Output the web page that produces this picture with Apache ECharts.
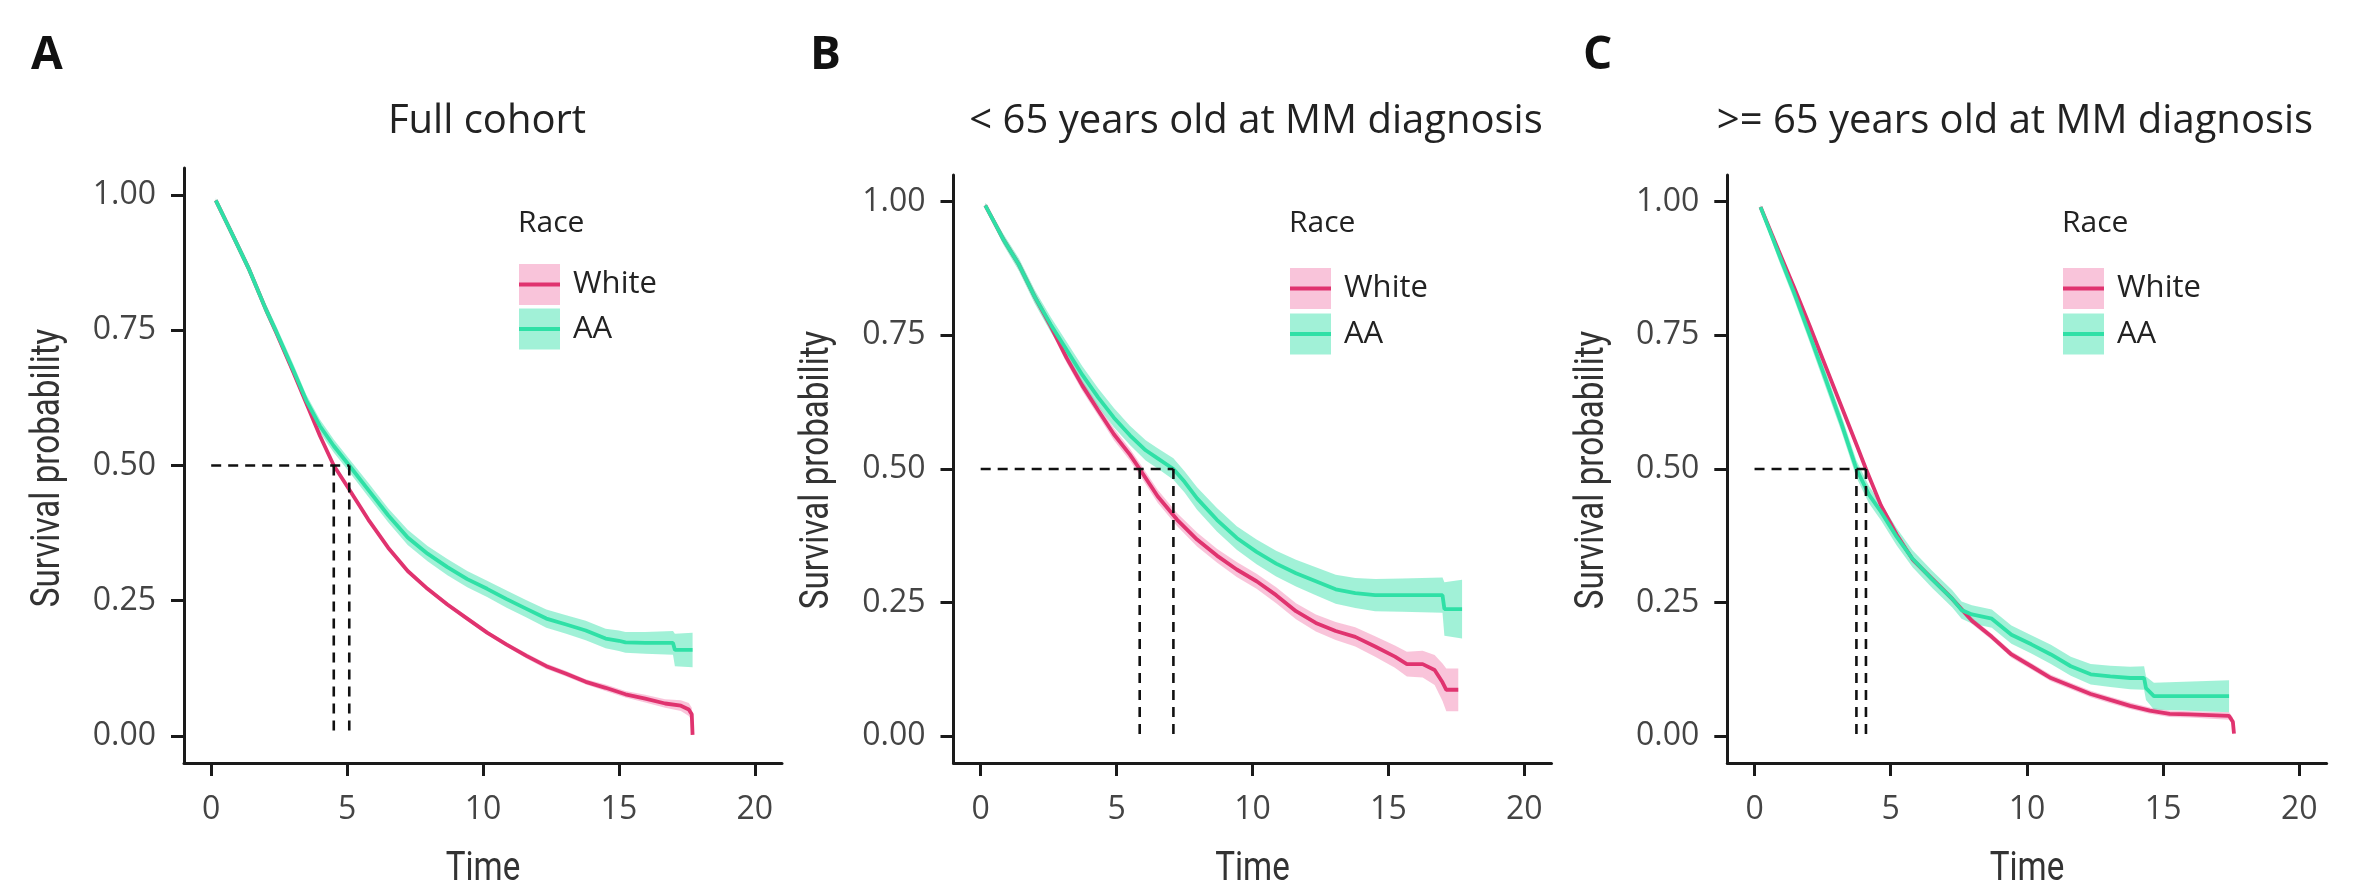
<!DOCTYPE html>
<html>
<head>
<meta charset="utf-8">
<script src="https://cdn.jsdelivr.net/npm/echarts@6/dist/echarts.min.js"></script>
<style>
  html, body { margin: 0; padding: 0; background: #ffffff; }
  #chart { width: 2359px; height: 889px; }
</style>
</head>
<body>
<div id="chart"></div>
<script>
// ---- Shared axis ticks and labels ----
const timeTicks = [0, 5, 10, 15, 20];
const survTicks = [0, 0.25, 0.5, 0.75, 1];
const raceGroups = ['White', 'AA'];
const panelTitles = ['Full cohort', '< 65 years old at MM diagnosis', '>= 65 years old at MM diagnosis'];
const panelLetters = ['A', 'B', 'C'];
const xAxisTitle = 'Time';
const yAxisTitle = 'Survival probability';

// ---- A: full cohort (Kaplan-Meier estimate, half-width of the 95% band) ----
const fullWhiteTime = [0.17, 0.8, 1.4, 2.0, 2.4, 3.0, 3.5, 4.0, 4.51, 5.05, 5.78, 6.51, 7.23, 7.96, 8.69, 9.42, 10.15, 10.87, 11.6, 12.33, 13.06, 13.78, 14.51, 15.24, 15.97, 16.7, 17.28, 17.57, 17.68, 17.71];
const fullWhiteSurv = [0.99, 0.925, 0.862, 0.79, 0.745, 0.675, 0.615, 0.555, 0.5, 0.458, 0.4, 0.348, 0.305, 0.272, 0.243, 0.217, 0.191, 0.169, 0.148, 0.129, 0.115, 0.1, 0.089, 0.077, 0.069, 0.06, 0.056, 0.049, 0.04, 0.002];
const fullWhiteCI   = [0.002, 0.003, 0.003, 0.003, 0.003, 0.004, 0.004, 0.004, 0.004, 0.004, 0.004, 0.004, 0.004, 0.004, 0.004, 0.004, 0.004, 0.004, 0.005, 0.005, 0.005, 0.005, 0.006, 0.006, 0.007, 0.008, 0.01, 0.012, 0.012, 0.003];
const fullAATime = [0.17, 0.8, 1.4, 2.0, 2.4, 3.0, 3.5, 4.0, 4.51, 5.08, 5.78, 6.51, 7.23, 7.96, 8.69, 9.42, 10.15, 10.87, 11.6, 12.33, 13.06, 13.78, 14.51, 15.0, 15.24, 15.97, 16.99, 17.06, 17.71];
const fullAASurv = [0.99, 0.925, 0.862, 0.79, 0.747, 0.679, 0.62, 0.573, 0.536, 0.5, 0.455, 0.408, 0.367, 0.337, 0.312, 0.29, 0.272, 0.253, 0.235, 0.217, 0.206, 0.195, 0.18, 0.176, 0.173, 0.172, 0.172, 0.159, 0.159];
const fullAACI   = [0.004, 0.008, 0.009, 0.01, 0.01, 0.011, 0.011, 0.012, 0.012, 0.012, 0.013, 0.013, 0.014, 0.014, 0.015, 0.015, 0.015, 0.016, 0.016, 0.017, 0.017, 0.018, 0.018, 0.019, 0.019, 0.02, 0.022, 0.03, 0.032];
const fullMedians = [4.51, 5.08];

// ---- B: younger than 65 at diagnosis ----
const youngWhiteTime = [0.17, 0.83, 1.41, 1.99, 2.58, 3.16, 3.74, 4.32, 4.9, 5.49, 5.85, 6.51, 7.23, 7.96, 8.69, 9.42, 10.15, 10.87, 11.6, 12.33, 13.06, 13.78, 14.51, 15.24, 15.68, 16.26, 16.7, 16.99, 17.13, 17.57];
const youngWhiteSurv = [0.993, 0.93, 0.882, 0.822, 0.767, 0.708, 0.656, 0.61, 0.565, 0.527, 0.5, 0.449, 0.405, 0.368, 0.338, 0.312, 0.29, 0.264, 0.234, 0.212, 0.197, 0.186, 0.168, 0.149, 0.135, 0.135, 0.124, 0.101, 0.087, 0.087];
const youngWhiteCI   = [0.004, 0.006, 0.007, 0.008, 0.009, 0.009, 0.01, 0.01, 0.011, 0.011, 0.011, 0.012, 0.012, 0.013, 0.013, 0.014, 0.014, 0.015, 0.015, 0.016, 0.017, 0.018, 0.019, 0.021, 0.023, 0.025, 0.028, 0.035, 0.04, 0.04];
const youngAATime = [0.17, 0.83, 1.41, 1.99, 2.58, 3.16, 3.74, 4.32, 4.9, 5.49, 6.07, 6.51, 7.09, 7.5, 7.96, 8.69, 9.42, 10.15, 10.87, 11.6, 12.33, 13.06, 13.78, 14.51, 15.5, 16.99, 17.06, 17.71];
const youngAASurv = [0.993, 0.93, 0.882, 0.822, 0.77, 0.723, 0.676, 0.634, 0.596, 0.563, 0.535, 0.52, 0.5, 0.476, 0.445, 0.405, 0.371, 0.345, 0.323, 0.305, 0.29, 0.275, 0.268, 0.264, 0.264, 0.264, 0.238, 0.238];
const youngAACI   = [0.005, 0.01, 0.012, 0.013, 0.014, 0.015, 0.016, 0.017, 0.018, 0.018, 0.019, 0.019, 0.02, 0.02, 0.021, 0.022, 0.022, 0.023, 0.024, 0.025, 0.026, 0.027, 0.028, 0.03, 0.031, 0.033, 0.05, 0.055];
const youngMedians = [5.85, 7.09];

// ---- C: 65 or older at diagnosis ----
const olderWhiteTime = [0.22, 0.87, 1.45, 2.03, 2.61, 3.19, 3.77, 4.09, 4.64, 5.22, 5.8, 6.53, 7.26, 7.98, 8.71, 9.43, 10.16, 10.88, 11.61, 12.34, 13.06, 13.79, 14.51, 15.24, 15.97, 17.42, 17.56, 17.6];
const olderWhiteSurv = [0.99, 0.91, 0.84, 0.767, 0.692, 0.617, 0.542, 0.5, 0.432, 0.377, 0.331, 0.294, 0.257, 0.216, 0.186, 0.153, 0.131, 0.109, 0.094, 0.079, 0.068, 0.057, 0.048, 0.042, 0.041, 0.038, 0.027, 0.005];
const olderWhiteCI   = [0.003, 0.005, 0.005, 0.006, 0.006, 0.006, 0.006, 0.006, 0.006, 0.006, 0.006, 0.006, 0.006, 0.006, 0.006, 0.006, 0.006, 0.006, 0.006, 0.006, 0.006, 0.006, 0.006, 0.006, 0.006, 0.007, 0.008, 0.003];
const olderAATime = [0.22, 0.87, 1.45, 2.03, 2.61, 3.19, 3.74, 4.2, 4.64, 5.22, 5.8, 6.53, 7.26, 7.6, 7.98, 8.71, 9.43, 10.16, 10.88, 11.61, 12.34, 13.06, 13.79, 14.3, 14.37, 14.66, 17.42];
const olderAASurv = [0.99, 0.905, 0.83, 0.75, 0.668, 0.585, 0.5, 0.452, 0.42, 0.373, 0.332, 0.293, 0.257, 0.236, 0.228, 0.22, 0.19, 0.172, 0.153, 0.131, 0.116, 0.112, 0.109, 0.109, 0.09, 0.075, 0.075];
const olderAACI   = [0.004, 0.012, 0.013, 0.014, 0.015, 0.015, 0.016, 0.016, 0.016, 0.016, 0.016, 0.016, 0.016, 0.016, 0.017, 0.017, 0.017, 0.017, 0.018, 0.018, 0.019, 0.02, 0.021, 0.022, 0.022, 0.025, 0.03];
const olderMedians = [4.09, 3.74];

// ---- Styling ----
const lineColors = { White: '#e0336f', AA: '#2fe0a6' };
const bandColors = { White: 'rgba(236, 70, 140, 0.32)', AA: 'rgba(47, 224, 166, 0.45)' };
const axisColor = '#1a1a1a';
const textFont = '"Open Sans", Lato, sans-serif';
const narrowFont = 'Roboto, "Open Sans", sans-serif';

const panels = [
  { white: [fullWhiteTime, fullWhiteSurv, fullWhiteCI], aa: [fullAATime, fullAASurv, fullAACI], medians: fullMedians,
    grid: { left: 184, top: 168, width: 598, height: 595 },
    titleX: 482, letterX: 26, legendX: 519, legendRows: [284.5, 329], yTitle: [49, 468] },
  { white: [youngWhiteTime, youngWhiteSurv, youngWhiteCI], aa: [youngAATime, youngAASurv, youngAACI], medians: youngMedians,
    grid: { left: 953.5, top: 175, width: 598, height: 588 },
    titleX: 1251, letterX: 805, legendX: 1290, legendRows: [288.5, 334], yTitle: [818, 470] },
  { white: [olderWhiteTime, olderWhiteSurv, olderWhiteCI], aa: [olderAATime, olderAASurv, olderAACI], medians: olderMedians,
    grid: { left: 1727.3, top: 175, width: 599.3, height: 588 },
    titleX: 2010, letterX: 1578, legendX: 2063, legendRows: [288.5, 334], yTitle: [1593, 470] }
];

// Confidence band drawn as one polygon through the axis scales
function bandSeries(idx, time, surv, ci, fill) {
  const data = time.map((t, i) => [t, surv[i] - ci[i], surv[i] + ci[i]]);
  return {
    type: 'custom', xAxisIndex: idx, yAxisIndex: idx, z: 1, silent: true,
    data: data, encode: { x: 0, y: [1, 2] },
    renderItem: function (params, api) {
      if (params.dataIndex !== 0) return null;
      const upper = data.map(d => api.coord([d[0], d[2]]));
      const lower = data.map(d => api.coord([d[0], d[1]])).reverse();
      return { type: 'polygon', shape: { points: upper.concat(lower) }, style: { fill: fill } };
    }
  };
}

function curveSeries(idx, name, time, surv) {
  return {
    type: 'line', name: name, xAxisIndex: idx, yAxisIndex: idx, z: 3, silent: true,
    data: time.map((t, i) => [t, surv[i]]),
    showSymbol: false, symbol: 'none',
    lineStyle: { width: 3.8, color: lineColors[name] },
    itemStyle: { color: lineColors[name] }
  };
}

function dashSeries(idx, pts) {
  return {
    type: 'line', xAxisIndex: idx, yAxisIndex: idx, z: 4, silent: true,
    data: pts, showSymbol: false, symbol: 'none',
    lineStyle: { width: 2.6, color: '#111111', type: [10, 7] }
  };
}

const grids = [], xAxes = [], yAxes = [], series = [], titles = [], graphics = [];

panels.forEach((p, i) => {
  grids.push(Object.assign({ containLabel: false }, p.grid));

  xAxes.push({
    type: 'value', gridIndex: i, min: -1, max: 21,
    axisLine: { show: true, onZero: false, lineStyle: { color: axisColor, width: 3 } },
    axisTick: { show: true, length: 13, customValues: timeTicks, lineStyle: { color: axisColor, width: 3 } },
    axisLabel: { customValues: timeTicks, fontSize: 32, color: '#444444', margin: 31, fontFamily: textFont },
    splitLine: { show: false }
  });

  yAxes.push({
    type: 'value', gridIndex: i, min: -0.05, max: 1.05,
    axisLine: { show: true, onZero: false, lineStyle: { color: axisColor, width: 3 } },
    axisTick: { show: true, length: 13, customValues: survTicks, lineStyle: { color: axisColor, width: 3 } },
    axisLabel: { customValues: survTicks, fontSize: 32, color: '#444444', margin: 28, fontFamily: textFont,
                 formatter: v => v.toFixed(2) },
    splitLine: { show: false }
  });

  series.push(bandSeries(i, p.white[0], p.white[1], p.white[2], bandColors.White));
  series.push(bandSeries(i, p.aa[0], p.aa[1], p.aa[2], bandColors.AA));
  series.push(curveSeries(i, 'White', p.white[0], p.white[1]));
  series.push(curveSeries(i, 'AA', p.aa[0], p.aa[1]));

  // Median survival guides: across at 0.5, then down to the time axis
  const mMax = Math.max.apply(null, p.medians);
  series.push(dashSeries(i, [[0, 0.5], [mMax, 0.5]]));
  p.medians.forEach(m => series.push(dashSeries(i, [[m, 0.5], [m, 0]])));

  titles.push({
    text: panelTitles[i], left: p.titleX, top: 97, textAlign: 'center',
    textStyle: { fontSize: 40, fontWeight: 'normal', color: '#222222', fontFamily: textFont }
  });
  titles.push({
    text: panelLetters[i], left: p.letterX, top: 28,
    textStyle: { fontSize: 46, fontWeight: 'bold', color: '#111111', fontFamily: textFont }
  });

  // Axis titles in a condensed setting
  graphics.push({
    type: 'text', x: p.grid.left + p.grid.width / 2, y: 870, scaleX: 0.81,
    style: { text: xAxisTitle, font: '41px ' + narrowFont, fill: '#333333', align: 'center', verticalAlign: 'middle' }
  });
  graphics.push({
    type: 'text', x: p.yTitle[0], y: p.yTitle[1], rotation: Math.PI / 2, scaleX: 0.81,
    style: { text: yAxisTitle, font: '41px ' + narrowFont, fill: '#333333', align: 'center', verticalAlign: 'middle' }
  });

  // Legend: title, band swatch with the curve colour across it, group label
  graphics.push({
    type: 'text', x: p.legendX - 1, y: 223,
    style: { text: 'Race', font: '30px ' + textFont, fill: '#222222', verticalAlign: 'middle' }
  });
  raceGroups.forEach((g, k) => {
    const cy = p.legendRows[k];
    graphics.push({ type: 'rect', shape: { x: p.legendX, y: cy - 20.5, width: 41, height: 41 },
                    style: { fill: bandColors[g] } });
    graphics.push({ type: 'line', shape: { x1: p.legendX, y1: cy, x2: p.legendX + 41, y2: cy },
                    style: { stroke: lineColors[g], lineWidth: 3.8 } });
    graphics.push({ type: 'text', x: p.legendX + 54, y: cy,
                    style: { text: g, font: '31px ' + textFont, fill: '#222222', verticalAlign: 'middle' } });
  });
});

const chart = echarts.init(document.getElementById('chart'), null, { renderer: 'canvas' });
chart.setOption({
  backgroundColor: '#ffffff',
  animation: false,
  title: titles,
  grid: grids,
  xAxis: xAxes,
  yAxis: yAxes,
  series: series,
  graphic: graphics
});
</script>
</body>
</html>
